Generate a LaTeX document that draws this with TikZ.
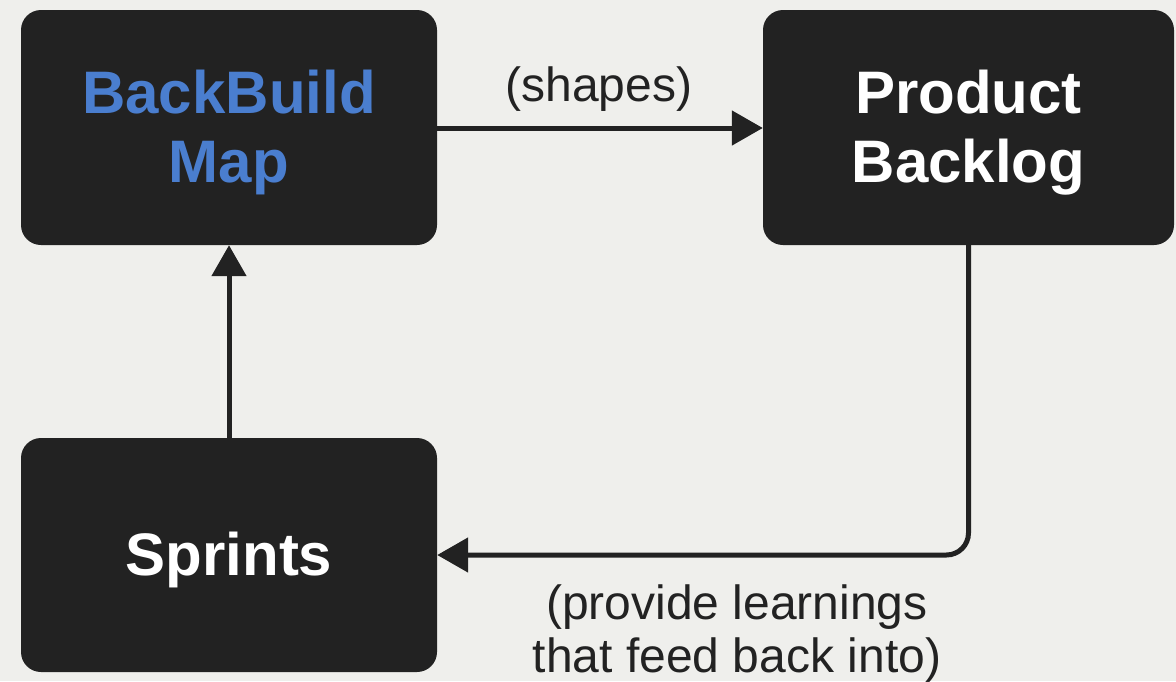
\documentclass[tikz,border=0pt]{standalone}
\usepackage{fontspec}
\setmainfont{Liberation Sans}
\usetikzlibrary{arrows.meta}
\definecolor{bgcol}{HTML}{EFEFEC}
\definecolor{boxcol}{HTML}{222222}
\definecolor{mapblue}{HTML}{4A7ECF}
% taller first line so the box text sits a little lower
\newcommand\boxstrut{\rule{0pt}{54pt}}
\begin{document}
\begin{tikzpicture}[x=1pt,y=-1pt,
  stage/.style={rectangle, rounded corners=20pt, fill=boxcol, text=white,
    minimum height=235pt, align=center,
    font=\fontsize{60}{69}\selectfont\bfseries, inner sep=0pt},
  flow/.style={draw=boxcol, line width=5pt,
    -{Triangle[length=31pt,width=34pt]}},
  note/.style={text=boxcol, font=\fontsize{48}{53}\selectfont, align=center, inner sep=0pt}]
  \fill[bgcol] (0,0) rectangle (1176,681);
  \useasboundingbox (0,0) rectangle (1176,681);

  \node[stage, minimum width=416pt, text=mapblue] (map) at (229,127.5) {\boxstrut BackBuild\\Map};
  \node[stage, minimum width=411pt] (backlog) at (968.5,127.5) {\boxstrut Product\\Backlog};
  \node[stage, minimum width=416pt, minimum height=234pt] (sprints) at (229,555) {\boxstrut Sprints};

  % map shapes the backlog
  \draw[flow] (map.east |- 0,128) -- (backlog.west |- 0,128);
  \node[note, anchor=base] (shapes) at (599,101) {(shapes)};

  % backlog feeds sprints
  \draw[flow, rounded corners=22pt] (backlog.south) |- (sprints.east);
  \node[note, anchor=base] (learn) at (737,672) {(provide learnings\\that feed back into)};

  % sprints feed back into the map
  \draw[flow] (sprints.north) -- (map.south);
\end{tikzpicture}
\end{document}
